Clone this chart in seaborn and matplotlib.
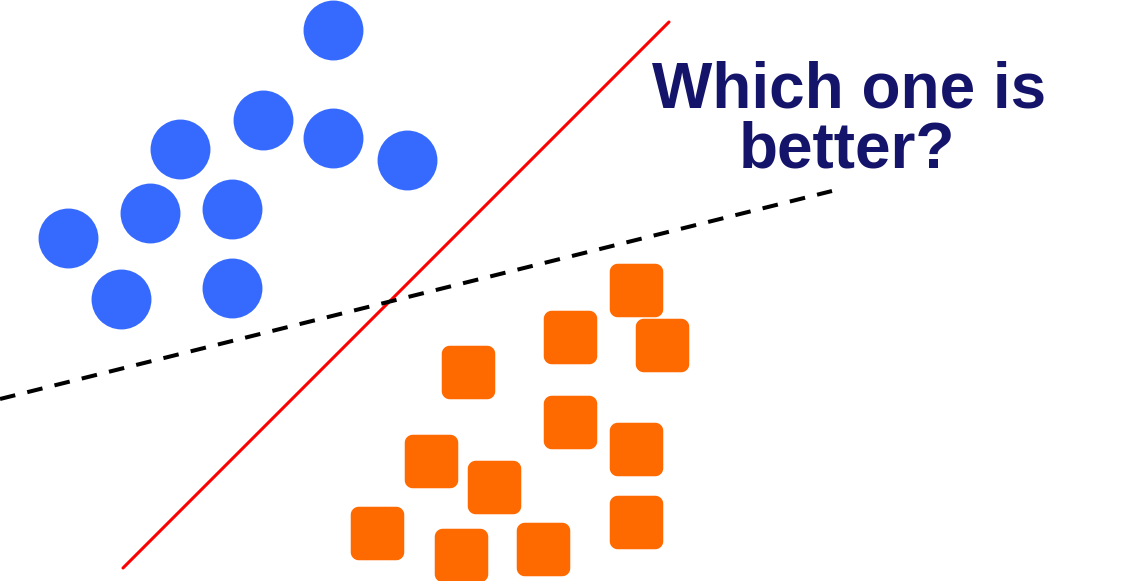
import numpy as np
import pandas as pd
import matplotlib
matplotlib.use("Agg")
import matplotlib.pyplot as plt
from matplotlib.path import Path
import seaborn as sns

# ---- data (pixel-space coordinates) ----
blue_x = [333, 263, 180, 333, 407, 150, 232, 68, 121, 232]
blue_y = [30, 120, 149, 138, 160, 213, 209, 238, 299, 288]

orange_x = [636, 570, 662, 468, 570, 636, 431, 494, 377, 461, 543, 636]
orange_y = [290, 337, 345, 372, 422, 449, 461, 487, 533, 555, 549, 522]

red_line_x = [123, 669]
red_line_y = [568, 22]

dash_line_x = [0, 832]
dash_line_y = [399, 191]

title_lines = ["Which one is", "better?"]

# ---- style ----
sns.set_theme(style="white")
plt.rcParams["font.family"] = ["Liberation Sans", "DejaVu Sans"]

W, H = 1122, 581
fig = plt.figure(figsize=(W / 100, H / 100), dpi=100)
ax = fig.add_axes([0, 0, 1, 1])
ax.set_xlim(0, W)
ax.set_ylim(H, 0)
ax.axis("off")

# rounded-square marker
def rounded_square(r=0.3, n=12):
    verts = []
    corners = [(1 - r, 1 - r, 0), (-(1 - r), 1 - r, 90), (-(1 - r), -(1 - r), 180), ((1 - r), -(1 - r), 270)]
    for cx, cy, a0 in corners:
        th = np.radians(np.linspace(a0, a0 + 90, n))
        for t in th:
            verts.append((cx + r * np.cos(t), cy + r * np.sin(t)))
    verts.append(verts[0])
    codes = [Path.MOVETO] + [Path.LINETO] * (len(verts) - 2) + [Path.CLOSEPOLY]
    return Path(np.array(verts), codes)

rsq = rounded_square()

blue_df = pd.DataFrame({"x": blue_x, "y": blue_y})
orange_df = pd.DataFrame({"x": orange_x, "y": orange_y})

sns.lineplot(x=red_line_x, y=red_line_y, ax=ax, color="#FF0000", lw=2.2,
             sort=False, zorder=1)
sns.lineplot(x=dash_line_x, y=dash_line_y, ax=ax, color="black", lw=2.9,
             sort=False, linestyle=(0, (3.9, 3.07)), dash_capstyle="butt", zorder=1)

sns.scatterplot(data=blue_df, x="x", y="y", ax=ax, marker="o", s=1860,
                color="#366AFF", linewidth=0, zorder=3)
sns.scatterplot(data=orange_df, x="x", y="y", ax=ax, marker=rsq, s=1484,
                color="#FF6A00", linewidth=0, zorder=3)

ax.set_xlim(0, W)
ax.set_ylim(H, 0)
ax.set_xlabel("")
ax.set_ylabel("")

ax.text(849, 107, title_lines[0], ha="center", va="baseline", fontsize=46,
        fontweight="bold", color="#14146A")
ax.text(847, 167, title_lines[1], ha="center", va="baseline", fontsize=46,
        fontweight="bold", color="#14146A")

fig.savefig("out.png", dpi=100, facecolor="white")
